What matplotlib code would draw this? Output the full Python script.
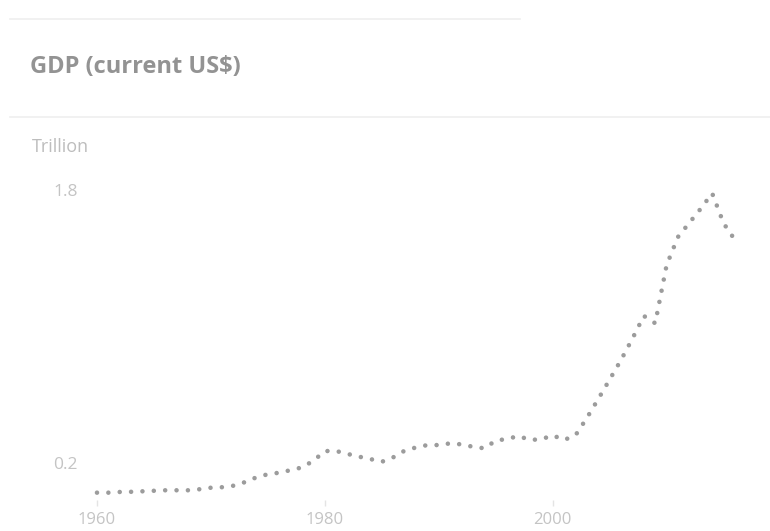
import matplotlib
matplotlib.use("Agg")
import matplotlib.pyplot as plt
from matplotlib.lines import Line2D

plt.rcParams['font.family'] = ['Open Sans', 'DejaVu Sans']

# GDP in trillions of current US$, one value per year
years = list(range(1960, 2017))
gdp_trillion = [
    0.026, 0.026, 0.030, 0.031, 0.034, 0.037, 0.040, 0.040, 0.040, 0.046,
    0.055, 0.058, 0.067, 0.088, 0.116, 0.134, 0.143, 0.158, 0.174, 0.213,
    0.270, 0.270, 0.253, 0.237, 0.223, 0.207, 0.233, 0.272, 0.291, 0.305,
    0.305, 0.315, 0.309, 0.295, 0.286, 0.331, 0.341, 0.358, 0.335, 0.339,
    0.362, 0.335, 0.362, 0.464, 0.575, 0.689, 0.804, 0.929, 1.062, 1.019,
    1.360, 1.525, 1.608, 1.691, 1.781, 1.605, 1.507,
]
x_ticks = [1960, 1980, 2000]
y_ticks = [0.2, 1.8]
y_tick_labels = ["0.2", "1.8"]

W, H = 770, 531
fig = plt.figure(figsize=(W / 100, H / 100), dpi=100)
fig.patch.set_facecolor("white")


def fx(px):
    return px / W


def fy(py):
    return 1 - py / H


# header separators
fig.add_artist(Line2D([fx(10), fx(520)], [fy(19), fy(19)], color="#efefef", lw=1.2))
fig.add_artist(Line2D([fx(10), fx(770)], [fy(117), fy(117)], color="#efefef", lw=1.2))

fig.text(fx(30), fy(67), "GDP (current US$)", fontsize=17, fontweight="bold",
         color="#939393", ha="left", va="center")
fig.text(fx(32), fy(147), "Trillion", fontsize=13, color="#bdbdbd",
         ha="left", va="center")

# plot area
left, right, top, bottom = 85, 750, 175, 500
ax = fig.add_axes([fx(left), fy(bottom), (right - left) / W, (bottom - top) / H])
ax.set_facecolor("none")

ax.plot(years, gdp_trillion, color="#9c9c9c", lw=3.3,
        linestyle=(0, (0.001, 2.48)), dash_capstyle="round",
        solid_capstyle="round")

ax.set_xlim(1958.947, 2017.32)
ax.set_ylim(-0.017, 1.888)

for s in ax.spines.values():
    s.set_visible(False)

ax.set_xticks(x_ticks)
ax.set_xticklabels([str(t) for t in x_ticks])
ax.set_yticks(y_ticks)
ax.set_yticklabels(y_tick_labels)
ax.tick_params(axis="x", length=4, width=1, color="#e4e4e4", pad=5,
               labelsize=12, labelcolor="#c4c4c4")
ax.tick_params(axis="y", length=0, pad=5, labelsize=12.5, labelcolor="#c4c4c4")

fig.savefig("out.png", dpi=100, facecolor="white")
